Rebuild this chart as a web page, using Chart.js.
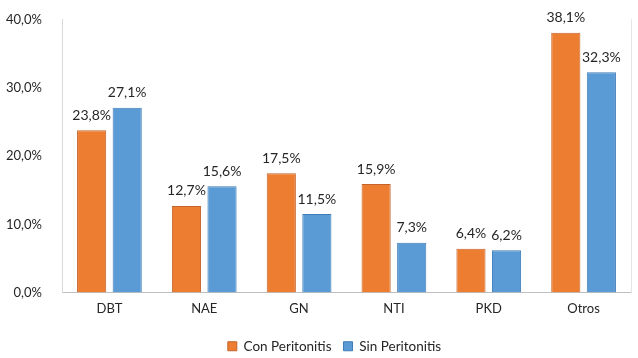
<!DOCTYPE html>
<html>
<head>
<meta charset="utf-8">
<script src="https://cdn.jsdelivr.net/npm/chart.js@4"></script>
<style>
  html, body { margin: 0; padding: 0; background: #fff; }
  #chart { display: block; }
</style>
</head>
<body>
<canvas id="chart" width="638" height="358"></canvas>
<script>
const categories = ['DBT', 'NAE', 'GN', 'NTI', 'PKD', 'Otros'];
const conPeritonitis = [23.8, 12.7, 17.5, 15.9, 6.4, 38.1];
const sinPeritonitis = [27.1, 15.6, 11.5, 7.3, 6.2, 32.3];
const yTicks = [0, 10, 20, 30, 40];

const fmt = v => v.toFixed(1).replace('.', ',') + '%';
const FONT = 'Lato, "Open Sans", sans-serif';

// labels above each bar
const valueLabels = {
    id: 'valueLabels',
    afterLayout(chart) {
        // legend sits a bit right of centre in the original
        const lg = chart.legend;
        lg.left += 19; lg.right += 19;
        lg.top += 5; lg.bottom += 5;
    },
    afterDatasetsDraw(chart) {
        const ctx = chart.ctx;
        ctx.save();
        ctx.font = '14px ' + FONT;
        ctx.fillStyle = '#262626';
        ctx.textAlign = 'center';
        ctx.textBaseline = 'bottom';
        chart.data.datasets.forEach((ds, i) => {
            chart.getDatasetMeta(i).data.forEach((bar, j) => {
                ctx.fillText(fmt(ds.data[j]), bar.x, bar.y - 8);
            });
        });
        ctx.restore();
    }
};

new Chart(document.getElementById('chart'), {
    type: 'bar',
    data: {
        labels: categories,
        datasets: [{
            label: 'Con Peritonitis',
            data: conPeritonitis,
            backgroundColor: '#ED7D31',
            borderColor: '#C5632A',
            borderWidth: 1
        }, {
            label: 'Sin Peritonitis',
            data: sinPeritonitis,
            backgroundColor: '#5B9BD5',
            borderColor: '#3E7CB8',
            borderWidth: 1
        }]
    },
    options: {
        responsive: false,
        animation: false,
        layout: { padding: { top: 12, right: 7, left: 0, bottom: 0 } },
        datasets: {
            bar: { categoryPercentage: 0.75, barPercentage: 0.82 }
        },
        plugins: {
            legend: {
                position: 'bottom',
                labels: {
                    boxWidth: 9,
                    boxHeight: 9,
                    color: '#262626',
                    font: { size: 13.5, family: FONT },
                    padding: 12
                }
            },
            tooltip: { enabled: false }
        },
        scales: {
            x: {
                grid: { display: false },
                border: { color: '#bfbfbf' },
                ticks: { color: '#262626', font: { size: 13, family: FONT }, padding: 1 },
                afterFit(scale) { scale.height = 30; }
            },
            y: {
                min: 0,
                max: 40,
                afterBuildTicks(scale) { scale.ticks = yTicks.map(v => ({ value: v })); },
                grid: { display: false },
                border: { color: '#d9d9d9' },
                ticks: {
                    color: '#262626',
                    font: { size: 13, family: FONT },
                    padding: 12,
                    callback: v => fmt(v)
                },
                afterFit(scale) { scale.width = 62; }
            },
            yRight: {
                position: 'right',
                min: 0,
                max: 40,
                grid: { display: false },
                border: { color: '#e6e6e6' },
                ticks: { display: false },
                afterFit(scale) { scale.width = 0; }
            }
        }
    },
    plugins: [valueLabels]
});
</script>
</body>
</html>
